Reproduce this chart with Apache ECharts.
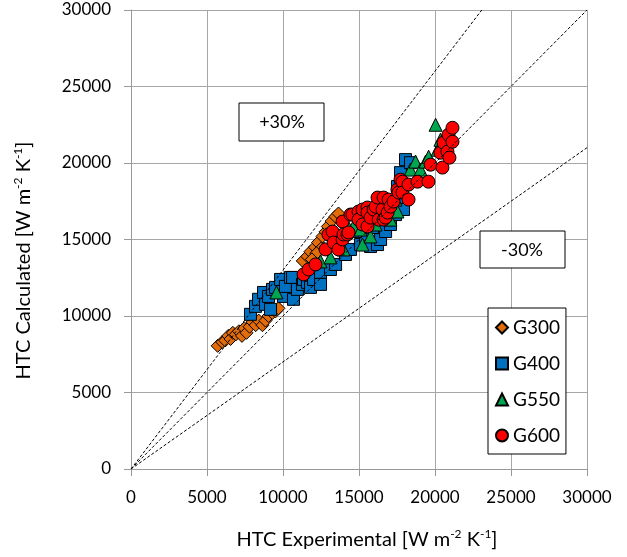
<!DOCTYPE html>
<html><head><meta charset="utf-8">
<script src="https://cdn.jsdelivr.net/npm/echarts@6/dist/echarts.min.js"></script>
<style>html,body{margin:0;padding:0;background:#fff}#c{width:627px;height:557px}</style>
</head><body><div id="c"></div>
<script>
const xTicks = [0, 5000, 10000, 15000, 20000, 25000, 30000];
const yTicks = [0, 5000, 10000, 15000, 20000, 25000, 30000];
const seriesNames = ['G300', 'G400', 'G550', 'G600'];

const g300 = [[5700,8050],[6000,8300],[6200,8400],[6400,8700],[6550,8500],[6700,8900],[6900,8800],[7100,9000],[7300,8700],[7450,9200],[7600,8900],[7800,9300],[8000,9600],[8200,9400],[8400,9700],[8650,9400],[8850,9700],[9050,10000],[9300,10200],[9500,10300],[9700,10500],[11300,13600],[11600,13900],[11800,14200],[12100,14500],[12300,14800],[12500,14400],[12600,15200],[12800,15500],[12950,15850],[13200,16200],[13450,16500],[13650,16700],[12200,14100],[11900,13700]];

const g400 = [[7860,10110],[8190,10630],[8390,11090],[8720,11540],[8850,10760],[9050,11280],[9180,10435],[9310,11740],[9510,11870],[9840,12390],[10030,11280],[10160,11935],[10490,12520],[10630,12520],[10690,11090],[10950,11740],[11280,12065],[11350,12390],[11610,12200],[11810,11870],[12010,12390],[12470,12850],[12470,12065],[13120,13040],[13460,13370],[14110,14020],[14440,14350],[15100,14670],[15430,15000],[15760,14540],[16220,14670],[16420,15000],[16750,15520],[17070,15980],[17400,16630],[17730,17610],[17930,16960],[17530,18460],[17730,19370],[18060,20220],[18390,20020],[14770,15520],[15890,15780]];

const g550 = [[9570,11540],[12470,13570],[13120,13830],[13590,14800],[13980,14350],[14310,15780],[14640,15850],[15100,15650],[15230,14670],[15300,16300],[15760,15200],[16090,15980],[16420,16960],[16620,16830],[17070,16300],[17400,17610],[17530,16830],[17730,18260],[18060,18720],[18390,19570],[18720,20090],[19050,19570],[19380,20090],[19580,20410],[20170,20870],[20040,22500],[20360,21520],[20690,21200]];

const g600 = [[11350,12720],[11680,13040],[12140,13370],[12800,14350],[12990,15330],[13260,15520],[13330,14800],[13650,14350],[13920,15000],[13920,16170],[13980,15330],[14240,15330],[14310,15460],[14440,16630],[14570,16630],[14970,16830],[14970,16300],[15230,16960],[15230,15980],[15560,17090],[15560,16760],[15560,15850],[15760,16430],[15960,16960],[16090,17150],[16220,17740],[16290,16300],[16550,16960],[16620,17740],[16620,16300],[16750,16430],[16880,16760],[16950,17610],[17070,17150],[17270,17480],[17530,18260],[17600,18070],[17730,18910],[17860,18780],[17860,18070],[18260,18590],[18260,17610],[18850,18780],[19570,18780],[19710,19890],[20360,20670],[20490,19700],[20560,21330],[20820,20740],[20890,21850],[20950,20350],[21150,22300],[21150,21390]];

const line100 = [[0,0],[30000,30000]];
const linePlus30 = [[0,0],[23077,30000]];
const lineMinus30 = [[0,0],[30000,21000]];

const FONT = 'Lato';
const chart = echarts.init(document.getElementById('c'), null, {renderer:'canvas'});

function scatter(name, data, symbol, color, size) {
  return {
    name, type:'scatter', data, symbol, symbolSize:size,
    itemStyle:{color, borderColor:'#000', borderWidth:1, opacity:1},
    z:2, emphasis:{disabled:true}
  };
}
function refLine(data) {
  return {
    type:'line', data, showSymbol:false, symbol:'none', silent:true,
    lineStyle:{color:'#000', width:1, type:[3,2]}, z:5
  };
}

const supRich = {sup:{fontSize:12, fontFamily:FONT, color:'#000', verticalAlign:'top', lineHeight:14}};

chart.setOption({
  animation:false,
  backgroundColor:'#fff',
  grid:{left:131, right:40, top:10, bottom:87},
  xAxis:{
    type:'value', min:xTicks[0], max:xTicks[xTicks.length-1], interval:5000,
    axisLine:{show:true, lineStyle:{color:'#999', width:1}},
    axisTick:{show:true, length:7, lineStyle:{color:'#999'}},
    splitLine:{show:true, lineStyle:{color:'#A6A6A6', width:1}},
    axisLabel:{fontFamily:FONT, fontSize:17, color:'#000', margin:20, formatter:v => String(v)},
    name:'HTC Experimental [W m{sup|-2} K{sup|-1}]',
    nameLocation:'middle', nameGap:59,
    nameTextStyle:{fontFamily:FONT, fontSize:20, color:'#000', lineHeight:24, padding:[0,0,0,16], rich:supRich}
  },
  yAxis:{
    type:'value', min:yTicks[0], max:yTicks[yTicks.length-1], interval:5000,
    axisLine:{show:true, lineStyle:{color:'#999', width:1}},
    axisTick:{show:true, length:7, lineStyle:{color:'#999'}},
    splitLine:{show:true, lineStyle:{color:'#A6A6A6', width:1}},
    axisLabel:{fontFamily:FONT, fontSize:17, color:'#000', margin:20, formatter:v => String(v)},
    name:'HTC Calculated [W m{sup|-2} K{sup|-1}]',
    nameLocation:'middle', nameGap:95, nameRotate:90,
    nameTextStyle:{fontFamily:FONT, fontSize:20, color:'#000', lineHeight:24, padding:[0,42,0,0], rich:supRich}
  },
  legend:{
    show:true, orient:'vertical', left:488, top:308,
    data:seriesNames,
    backgroundColor:'#fff', borderColor:'#000', borderWidth:1,
    padding:[10,6,9,7], itemGap:17, itemWidth:12, itemHeight:12,
    textStyle:{fontFamily:FONT, fontSize:19, color:'#000'},
    selectedMode:false
  },
  graphic:[
    {type:'rect', shape:{x:239, y:103, width:85, height:38}, style:{fill:'#fff', stroke:'#000', lineWidth:1}, z:10},
    {type:'text', style:{text:'+30%', fontFamily:FONT, fontSize:18, fill:'#000', x:282, y:122, align:'center', verticalAlign:'middle'}, z:11},
    {type:'rect', shape:{x:480, y:231, width:85, height:37}, style:{fill:'#fff', stroke:'#000', lineWidth:1}, z:10},
    {type:'text', style:{text:'-30%', fontFamily:FONT, fontSize:18, fill:'#000', x:522, y:250, align:'center', verticalAlign:'middle'}, z:11}
  ],
  series:[
    scatter('G300', g300, 'diamond', '#E36C0A', 13),
    scatter('G400', g400, 'rect', '#0070C0', 12),
    scatter('G550', g550, 'triangle', '#00A550', 13),
    scatter('G600', g600, 'circle', '#FF0000', 13),
    refLine(line100),
    refLine(linePlus30),
    refLine(lineMinus30)
  ]
});
</script></body></html>
